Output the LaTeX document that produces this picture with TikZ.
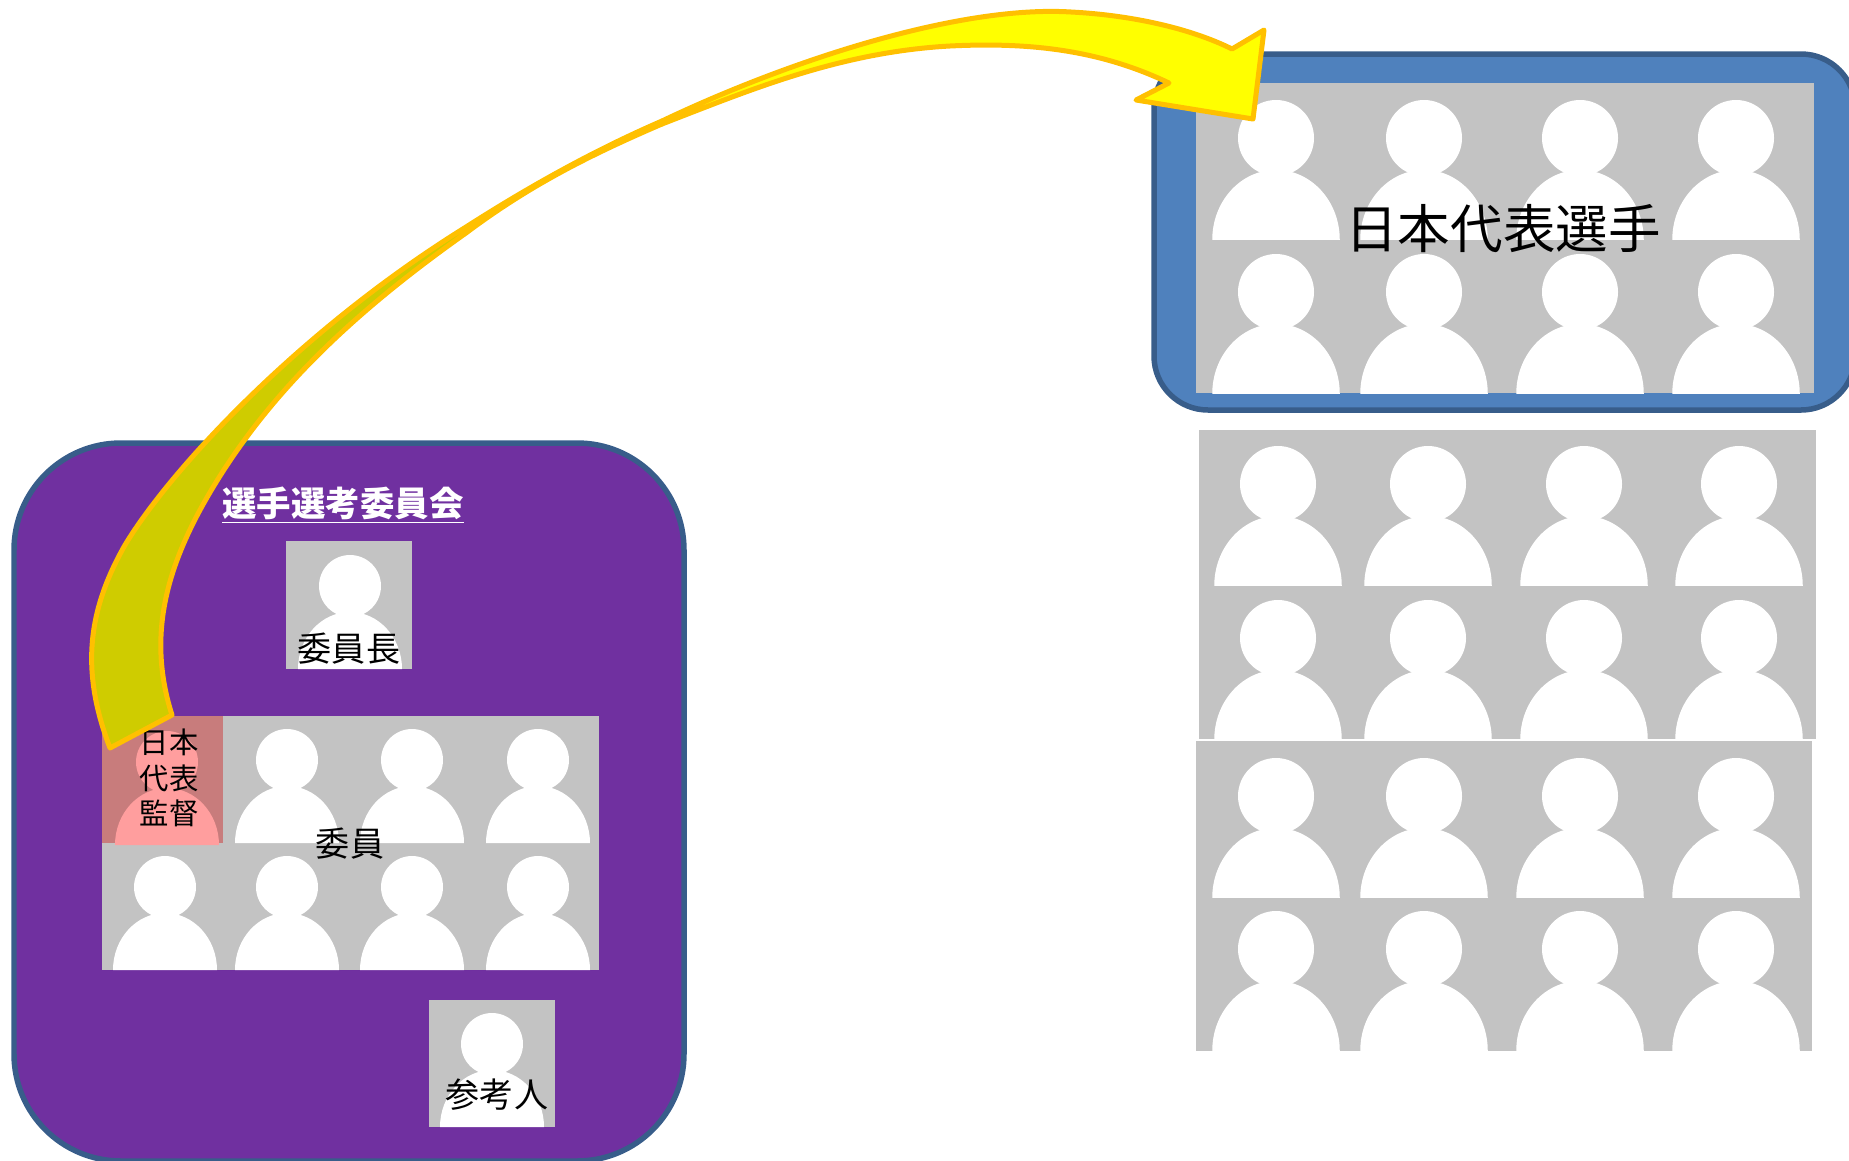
\documentclass[tikz,border=0pt]{standalone}
\usepackage{fontspec}
\setmainfont{Noto Sans CJK JP}
\newfontfamily\cjk{Noto Sans CJK JP}
\usepackage{tikz}
\definecolor{boxedge}{HTML}{385D8A}
\definecolor{boxblue}{HTML}{4F81BD}
\definecolor{boxpurple}{HTML}{7030A0}
\definecolor{tilegray}{HTML}{C3C3C3}
\definecolor{pinktile}{HTML}{C87C7C}
\definecolor{pinkfig}{HTML}{FF9E9E}
\definecolor{arrowedge}{HTML}{FFC000}
\definecolor{arrowdark}{HTML}{CFCC00}
\definecolor{arrowlight}{HTML}{FFFF00}
\tikzset{groupbox/.style={draw=boxedge,line width=0.11cm},
  ribbon/.style={draw=arrowedge,line width=0.1cm,line join=round},
  label/.style={inner sep=0pt,text=black,align=center}
}
% one white figure: head position, scale, colour
\def\personfig#1#2#3#4{
  \begin{scope}[shift={(#1,#2)},scale=#3]
    \fill[#4] (0,0) circle (31);
    \fill[#4] (-52,83) arc[start angle=180,end angle=360,x radius=52,y radius=57] -- cycle;
  \end{scope}
}
\begin{document}
\begin{tikzpicture}[x=0.02cm,y=-0.02cm]
        \useasboundingbox (0,0) rectangle (1849,1160);
        \clip (0,0) rectangle (1849,1160);

        % committee
        \draw[groupbox,fill=boxpurple,rounded corners=2.14cm] (14,443) rectangle (684,1161);
        \fill[tilegray] (102,716) rectangle (599,970);
        \fill[pinktile] (102,716) rectangle (223,843);
        \personfig{167}{762}{1}{pinkfig}
        \foreach \hx in {287,412,538} {\personfig{\hx}{760}{1}{white}}
        \foreach \hx in {165,287,412,538} {\personfig{\hx}{887}{1}{white}}
        \fill[tilegray] (286,541) rectangle (412,669);
        \personfig{350}{586}{1}{white}
        \fill[tilegray] (429,1000) rectangle (555,1127);
        \personfig{492}{1044}{1}{white}

        \node[label,text=white,font=\cjk\fontsize{19.6}{24}\selectfont\bfseries] (committee) at (343,505) {\underline{選手選考委員会}};
        \node[label,font=\cjk\fontsize{19.4}{24}\selectfont] (chair) at (349,649) {委員長};
        \node[label,font=\cjk\fontsize{19.4}{24}\selectfont] (members) at (350,844) {委員};
        \node[label,font=\cjk\fontsize{19.4}{24}\selectfont] (witness) at (497,1095) {参考人};
        \node[label,font=\cjk\fontsize{16.7}{20.1}\selectfont] (coach) at (169,778) {日本\\代表\\監督};

        % national team and the other candidates
        \draw[groupbox,fill=boxblue,rounded corners=1.08cm] (1154,54) rectangle (1855,410);
        \fill[tilegray] (1196,83) rectangle (1814,393);
        \fill[tilegray] (1199,430) rectangle (1816,739);
        \fill[tilegray] (1196,741) rectangle (1812,1051);
        \foreach \hy in {138,292,796,949} {
          \foreach \hx in {1276,1424,1580,1736} {\personfig{\hx}{\hy}{1.226}{white}}
        }
        \foreach \hy in {484,638} {
          \foreach \hx in {1278,1428,1584,1739} {\personfig{\hx}{\hy}{1.226}{white}}
        }
        \node[label,font=\cjk\fontsize{29.9}{34}\selectfont] (team) at (1503,229) {日本代表選手};

        % twisted arrow
        \draw[ribbon,fill=arrowdark] (110,748) .. controls (80,670) and (88,610) .. (125,545)
          .. controls (170,470) and (300,330) .. (466,227)
          .. controls (530,186) and (595,150) .. (662,121)
          -- (662,124) .. controls (590,155) and (530,185) .. (466,233)
          .. controls (350,315) and (260,400) .. (200,510)
          .. controls (165,575) and (148,640) .. (172,715) -- cycle;
        \draw[ribbon,fill=arrowlight] (662,121) .. controls (790,60) and (960,5) .. (1071,12)
          .. controls (1130,15) and (1190,28) .. (1232,49)
          -- (1264,30) -- (1253,119) -- (1136,100) -- (1169,83)
          .. controls (1100,50) and (1030,42) .. (950,46)
          .. controls (840,52) and (750,90) .. (662,124) -- cycle;
\end{tikzpicture}
\end{document}
